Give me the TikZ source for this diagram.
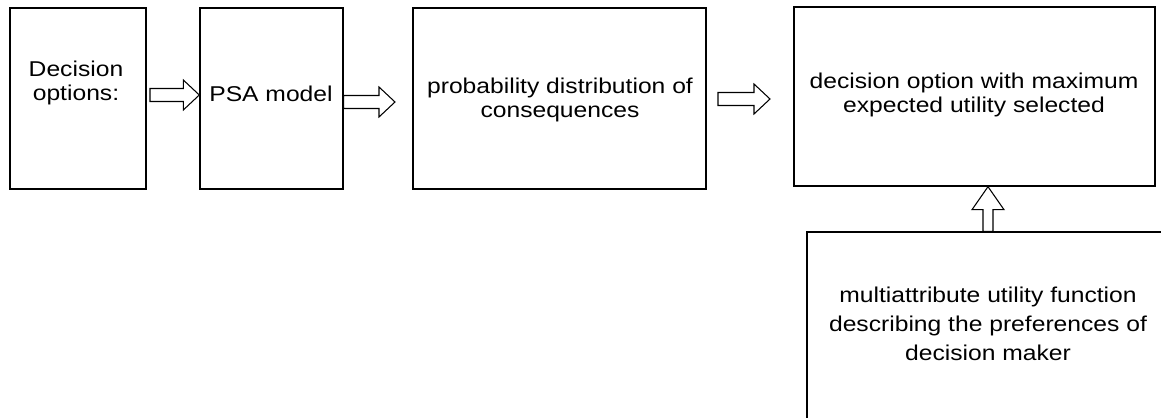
\documentclass[tikz,border=0pt]{standalone}
\usepackage{fontspec}
\setmainfont{Liberation Sans}[FakeStretch=1.15]
\usetikzlibrary{calc}

\tikzset{
  box/.style={draw, line width=0.8pt, inner sep=0pt},
  txt/.style={align=center, inner sep=0pt, font=\fontsize{12.2pt}{13.9pt}\selectfont},
  blockarrow/.style={draw, line width=0.6pt, fill=white}
}

% hollow block arrows, tail #1 and tip #2
\newcommand{\hblockarrow}[2]{%
  \draw[blockarrow] let \p1=(#1), \p2=(#2) in
    (\x1,\y1+0.13cm) -- (\x2-0.32cm,\y1+0.13cm) -- (\x2-0.32cm,\y1+0.3cm)
    -- (\x2,\y1) -- (\x2-0.32cm,\y1-0.3cm) -- (\x2-0.32cm,\y1-0.13cm)
    -- (\x1,\y1-0.13cm) -- cycle;}
\newcommand{\vblockarrow}[2]{%
  \draw[blockarrow] let \p1=(#1), \p2=(#2) in
    (\x1+0.1cm,\y1) -- (\x1+0.1cm,\y2-0.46cm) -- (\x1+0.32cm,\y2-0.46cm)
    -- (\x2,\y2) -- (\x1-0.32cm,\y2-0.46cm) -- (\x1-0.1cm,\y2-0.46cm)
    -- (\x1-0.1cm,\y1) -- cycle;}

\begin{document}
\begin{tikzpicture}[x=0.02cm, y=-0.02cm]
    \clip (0,0) rectangle (1161,418);

    % boxes
    \node[box, minimum width=2.72cm, minimum height=3.62cm] (dec) at (78,98.5) {};
    \node[box, minimum width=2.86cm, minimum height=3.62cm] (psa) at (271.5,98.5) {};
    \node[box, minimum width=5.86cm, minimum height=3.62cm] (prob) at (559.5,98.5) {};
    \node[box, minimum width=7.22cm, minimum height=3.58cm] (best) at (974.5,96.5) {};
    \node[box, minimum width=7.28cm, minimum height=4.6cm] (util) at (989,347) {};

    % texts
    \node[txt] (dectxt) at (76,83) {Decision\\options:};
    \node[txt] (psatxt) at (271,94) {PSA model};
    \node[txt] (probtxt) at (560,100) {probability distribution of\\consequences};
    \node[txt] (besttxt) at (974,95) {decision option with maximum\\expected utility selected};
    \node[txt, font=\fontsize{12.2pt}{16.5pt}\selectfont] (utiltxt) at (988,324)
        {multiattribute utility function\\describing the preferences of\\decision maker};

    % arrows
    \coordinate (t1) at (150,95);
    \coordinate (h2) at (395,102);
    \coordinate (t3) at (718,99);
    \coordinate (h3) at (770,99);
    \coordinate (upx) at (988,210);
    \hblockarrow{t1}{psa.west |- t1}
    \hblockarrow{psa.east |- h2}{h2}
    \hblockarrow{t3}{h3}
    \vblockarrow{util.north -| upx}{best.south -| upx}
\end{tikzpicture}
\end{document}
